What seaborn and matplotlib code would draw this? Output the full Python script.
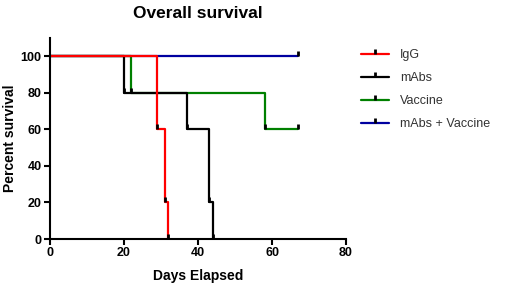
import numpy as np
import pandas as pd
import seaborn as sns
import matplotlib
matplotlib.use('Agg')
import matplotlib.pyplot as plt
from matplotlib.path import Path
from matplotlib.lines import Line2D

sns.set_style('ticks')
plt.rcParams['font.family'] = ['Liberation Sans', 'DejaVu Sans']
plt.rcParams['text.color'] = 'black'
plt.rcParams['axes.labelcolor'] = 'black'
plt.rcParams['xtick.color'] = 'black'
plt.rcParams['ytick.color'] = 'black'

# survival curves (days, percent surviving)
groups = ['IgG', 'mAbs', 'Vaccine', 'mAbs + Vaccine']
colors = ['#ff0000', '#000000', '#008000', '#0000a0']
igg_days = [0, 29, 31, 32]
igg_surv = [100, 60, 20, 0]
mabs_days = [0, 20, 37, 43, 44]
mabs_surv = [100, 80, 60, 20, 0]
vacc_days = [0, 22, 58, 67]
vacc_surv = [100, 80, 60, 60]
combo_days = [0, 67]
combo_surv = [100, 100]

days = [igg_days, mabs_days, vacc_days, combo_days]
surv = [igg_surv, mabs_surv, vacc_surv, combo_surv]

df = pd.concat([
    pd.DataFrame({'Days Elapsed': d, 'Percent survival': s, 'Group': g})
    for g, d, s in zip(groups, days, surv)
])

tick = Path([(0, 0), (0, 1)], [Path.MOVETO, Path.LINETO])

fig = plt.figure(figsize=(5.2, 2.89), dpi=100)
ax = fig.add_axes([50 / 520, 1 - 239 / 289, 296 / 520, 201 / 289])

# draw back to front so red ends on top
for g, c in list(zip(groups, colors))[::-1]:
    sub = df[df['Group'] == g]
    sns.lineplot(data=sub, x='Days Elapsed', y='Percent survival',
                 drawstyle='steps-post', color=c, lw=1.6, ax=ax,
                 estimator=None, sort=False, legend=False)
    ax.plot(sub['Days Elapsed'].iloc[1:], sub['Percent survival'].iloc[1:],
            ls='none', marker=tick, ms=7, mew=2, mec='black', zorder=5)

ax.set_xlim(0, 80)
ax.set_ylim(0, 110)
ax.set_xticks([0, 20, 40, 60, 80])
ax.set_yticks([0, 20, 40, 60, 80, 100])
sns.despine(ax=ax)
for sp in ['left', 'bottom']:
    ax.spines[sp].set_linewidth(1.5)
    ax.spines[sp].set_color('black')
ax.tick_params(width=1.5, length=4, labelsize=9, pad=2)
for lab in ax.get_xticklabels() + ax.get_yticklabels():
    lab.set_fontweight('bold')
ax.set_xlabel('Days Elapsed', fontsize=10, fontweight='bold', labelpad=7)
ax.set_ylabel('Percent survival', fontsize=10, fontweight='bold', labelpad=3)

fig.text(198 / 520, 1 - 13 / 289, 'Overall survival', ha='center', va='center',
         fontsize=12.5, fontweight='bold')

handles = [Line2D([], [], color=c, lw=1.6, marker=tick, ms=7, mew=2, mec='black')
           for c in colors]
fig.legend(handles, groups, loc='upper left',
           bbox_to_anchor=(350 / 520, 1 - 38 / 289), frameon=False,
           fontsize=9, handlelength=2.2, labelspacing=0.88, handletextpad=0.9,
           numpoints=1, labelcolor='#333333')

fig.savefig('out.png', dpi=100)
